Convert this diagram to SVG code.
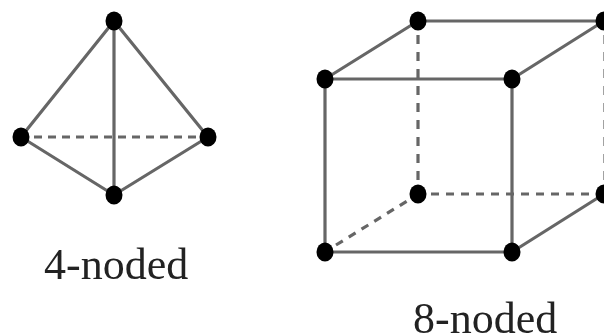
<svg xmlns="http://www.w3.org/2000/svg" width="604" height="336" viewBox="0 0 604 336">
<defs><filter id="soft" x="-5%" y="-5%" width="110%" height="110%"><feGaussianBlur stdDeviation="0.6"/></filter></defs>
<style>
.e{stroke:#666;stroke-width:3.2;fill:none}
.d{stroke:#666;stroke-width:3.2;fill:none}
.n{fill:#000}
.t{font-family:"Liberation Serif","Times New Roman",serif;font-size:44px;fill:#222}
</style>
<rect width="604" height="336" fill="#fff"/>
<g filter="url(#soft)">
<g id="connectors">
<path class="e" d="M114 21L21 137M114 21L208 137M114 21V195M21 137L114 195M208 137L114 195"/>
<path class="d" stroke-dasharray="8 6" d="M34 137H198"/>
<path class="e" d="M418 21H604M325 79L418 21M512 79L604 21M325 79H512M325 79V252M512 79V252M325 252H512M512 252L604 194"/>
<path class="d" stroke-dasharray="9 8" d="M418 35V182M605 35V182"/>
<path class="d" stroke-dasharray="8 7" d="M431 194H596M336 245L412 198"/>
</g>
<g id="tetra-top"><ellipse class="n" cx="114" cy="21" rx="8.5" ry="9.5"/></g>
<g id="tetra-left"><ellipse class="n" cx="21" cy="137" rx="8.5" ry="9.5"/></g>
<g id="tetra-right"><ellipse class="n" cx="208" cy="137" rx="8.5" ry="9.5"/></g>
<g id="tetra-bottom"><ellipse class="n" cx="114" cy="195" rx="8.5" ry="9.5"/></g>
<g id="cube-front-tl"><ellipse class="n" cx="325" cy="79" rx="8.5" ry="9.5"/></g>
<g id="cube-front-tr"><ellipse class="n" cx="512" cy="79" rx="8.5" ry="9.5"/></g>
<g id="cube-front-bl"><ellipse class="n" cx="325" cy="252" rx="8.5" ry="9.5"/></g>
<g id="cube-front-br"><ellipse class="n" cx="512" cy="252" rx="8.5" ry="9.5"/></g>
<g id="cube-back-tl"><ellipse class="n" cx="418" cy="21" rx="8.5" ry="9.5"/></g>
<g id="cube-back-tr"><ellipse class="n" cx="604" cy="21" rx="8.5" ry="9.5"/></g>
<g id="cube-back-bl"><ellipse class="n" cx="418" cy="194" rx="8.5" ry="9.5"/></g>
<g id="cube-back-br"><ellipse class="n" cx="604" cy="194" rx="8.5" ry="9.5"/></g>
<text class="t" x="44" y="279">4-noded</text>
<text class="t" x="413" y="333">8-noded</text>
</g>
</svg>
